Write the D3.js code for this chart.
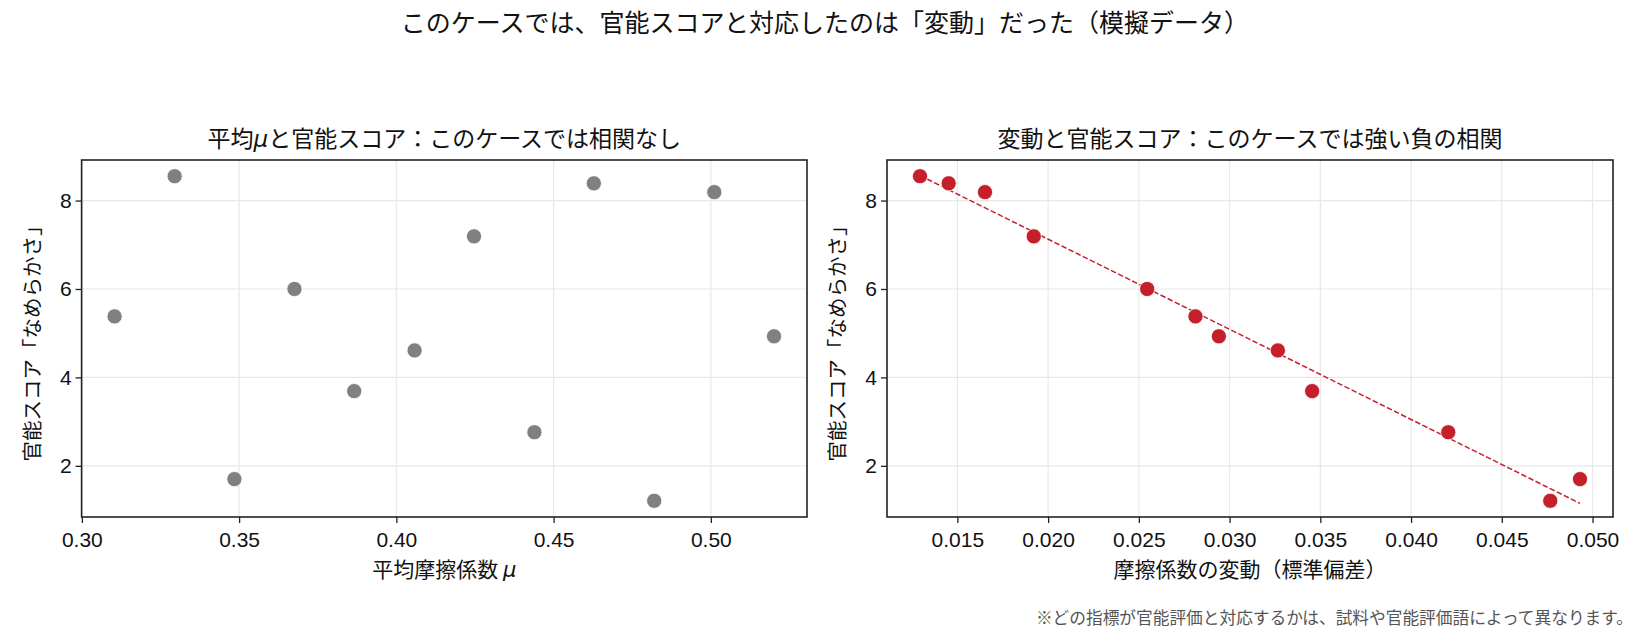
<!DOCTYPE html>
<html>
<head>
<meta charset="utf-8">
<script src="https://cdn.jsdelivr.net/npm/d3@7.9.0/dist/d3.min.js"></script>
<style>
  body { margin: 0; background: #fff; }
  svg { display: block; font-family: "Noto Sans CJK JP", "Noto Sans", sans-serif; }
  .tick text { font-size: 21px; fill: #111; }
  .tick line { stroke: #222; stroke-width: 1.3; }
  .domain { display: none; }
  .grid line { stroke: #e8e8e8; stroke-width: 1.2; }
</style>
</head>
<body>
<svg id="chart" width="1650" height="630"></svg>
<script>
// 官能スコア（両パネル共通、左パネルの点の順）
const scores = [5.38, 8.55, 1.70, 6.00, 3.69, 4.61, 7.19, 2.76, 8.39, 1.21, 8.19, 4.93];
// 平均摩擦係数 μ
const meanMu = [0.3104, 0.3295, 0.3485, 0.3676, 0.3866, 0.4058, 0.4247, 0.4439, 0.4628, 0.4820, 0.5011, 0.5201];
// 摩擦係数の変動（標準偏差）
const sdMu = [0.02812, 0.01294, 0.04931, 0.02546, 0.03455, 0.03266, 0.01921, 0.04205, 0.01452, 0.04767, 0.01652, 0.02941];

const leftTicks = [0.30, 0.35, 0.40, 0.45, 0.50];
const rightTicks = [0.015, 0.020, 0.025, 0.030, 0.035, 0.040, 0.045, 0.050];
const yTicks = [2, 4, 6, 8];

const suptitle = 'このケースでは、官能スコアと対応したのは「変動」だった（模擬データ）';
const footnote = '※どの指標が官能評価と対応するかは、試料や官能評価語によって異なります。';
const yLabel = '官能スコア「なめらかさ」';

const svg = d3.select('#chart');
const plotTop = 160, plotBottom = 517;

// matplotlib 風に 5% の余白をつけた範囲
function padded(values) {
  const [lo, hi] = d3.extent(values);
  const m = (hi - lo) * 0.05;
  return [lo - m, hi + m];
}

const y = d3.scaleLinear().domain(padded(scores)).range([plotBottom, plotTop]);

function panel(opts) {
  const { left, right, xs, ticks, fmt, color, title, xlabel, fit } = opts;
  const x = d3.scaleLinear().domain(padded(xs)).range([left, right]);
  const g = svg.append('g');

  // grid
  const grid = g.append('g').attr('class', 'grid');
  ticks.forEach(t => {
    grid.append('line').attr('x1', x(t)).attr('x2', x(t)).attr('y1', plotTop).attr('y2', plotBottom);
  });
  yTicks.forEach(t => {
    grid.append('line').attr('x1', left).attr('x2', right).attr('y1', y(t)).attr('y2', y(t));
  });

  // regression line
  if (fit) {
    const mx = d3.mean(xs), my = d3.mean(scores);
    const sxy = d3.sum(xs, (v, i) => (v - mx) * (scores[i] - my));
    const sxx = d3.sum(xs, v => (v - mx) * (v - mx));
    const slope = sxy / sxx, icpt = my - slope * mx;
    const [x0, x1] = d3.extent(xs);
    g.append('line')
      .attr('x1', x(x0)).attr('y1', y(icpt + slope * x0))
      .attr('x2', x(x1)).attr('y2', y(icpt + slope * x1))
      .attr('stroke', color).attr('stroke-width', 1.5)
      .attr('stroke-dasharray', '5.5,2.4');
  }

  // points
  g.append('g').selectAll('circle')
    .data(xs)
    .join('circle')
    .attr('cx', d => x(d))
    .attr('cy', (d, i) => y(scores[i]))
    .attr('r', 7.6)
    .attr('fill', color)
    .attr('stroke', '#fff')
    .attr('stroke-width', 0.8);

  // axes
  g.append('g')
    .attr('transform', `translate(0,${plotBottom})`)
    .call(d3.axisBottom(x).tickValues(ticks).tickFormat(fmt).tickSize(6).tickSizeOuter(0).tickPadding(9));
  g.append('g')
    .attr('transform', `translate(${left},0)`)
    .call(d3.axisLeft(y).tickValues(yTicks).tickFormat(d3.format('d')).tickSize(6).tickSizeOuter(0).tickPadding(4));

  g.append('rect')
    .attr('x', left).attr('y', plotTop)
    .attr('width', right - left).attr('height', plotBottom - plotTop)
    .attr('fill', 'none').attr('stroke', '#222').attr('stroke-width', 1.6);

  const cx = (left + right) / 2;
  const t = g.append('text')
    .attr('x', cx).attr('y', 147)
    .attr('text-anchor', 'middle')
    .attr('font-size', 23).attr('fill', '#111');
  title.forEach(part => {
    const s = t.append('tspan').text(part.text);
    if (part.italic) s.attr('font-family', 'DejaVu Sans').attr('font-style', 'italic');
  });

  const xl = g.append('text')
    .attr('x', cx).attr('y', 577)
    .attr('text-anchor', 'middle')
    .attr('font-size', 21).attr('fill', '#111');
  xlabel.forEach(part => {
    const s = xl.append('tspan').text(part.text);
    if (part.italic) s.attr('font-family', 'DejaVu Sans').attr('font-style', 'italic');
  });

  g.append('text')
    .attr('transform', `translate(${left - 42},${(plotTop + plotBottom) / 2}) rotate(-90)`)
    .attr('text-anchor', 'middle')
    .attr('font-size', 20.5).attr('fill', '#111')
    .text(yLabel);
}

panel({
  left: 81.6, right: 807, xs: meanMu, ticks: leftTicks, fmt: d3.format('.2f'),
  color: '#808080', fit: false,
  title: [{ text: '平均' }, { text: 'μ', italic: true }, { text: 'と官能スコア：このケースでは相関なし' }],
  xlabel: [{ text: '平均摩擦係数 ' }, { text: 'μ', italic: true }]
});

panel({
  left: 887, right: 1613, xs: sdMu, ticks: rightTicks, fmt: d3.format('.3f'),
  color: '#c4202b', fit: true,
  title: [{ text: '変動と官能スコア：このケースでは強い負の相関' }],
  xlabel: [{ text: '摩擦係数の変動（標準偏差）' }]
});

svg.append('text')
  .attr('x', 825).attr('y', 32)
  .attr('text-anchor', 'middle')
  .attr('font-size', 25).attr('fill', '#111')
  .text(suptitle);

svg.append('text')
  .attr('x', 1633).attr('y', 624)
  .attr('text-anchor', 'end')
  .attr('font-size', 16.7).attr('fill', '#555')
  .text(footnote);
</script>
</body>
</html>
